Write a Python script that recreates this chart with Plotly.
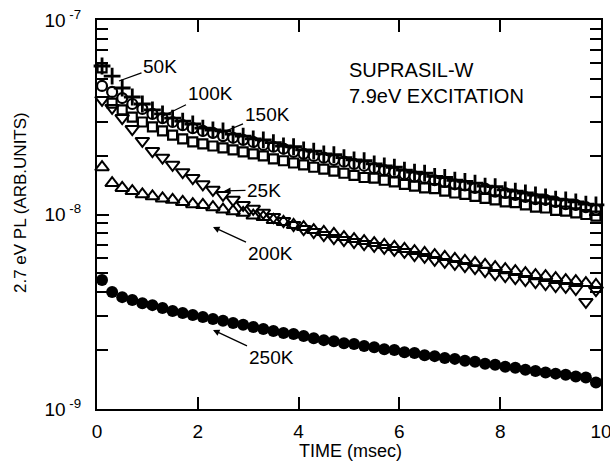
import plotly.graph_objects as go

# ---------------- data (values in units of 1e-9, arbitrary units) ----------------
TIME = [0.1, 0.3, 0.5, 0.7, 0.9, 1.1, 1.3, 1.5, 1.7, 1.9,
        2.1, 2.3, 2.5, 2.7, 2.9, 3.1, 3.3, 3.5, 3.7, 3.9,
        4.1, 4.3, 4.5, 4.7, 4.9, 5.1, 5.3, 5.5, 5.7, 5.9,
        6.1, 6.3, 6.5, 6.7, 6.9, 7.1, 7.3, 7.5, 7.7, 7.9,
        8.1, 8.3, 8.5, 8.7, 8.9, 9.1, 9.3, 9.5, 9.7, 9.9]

PL_50K = [58.0, 51.5, 44.7, 40.2, 37.0, 34.5, 32.9, 31.3, 30.2, 29.2,
          27.8, 27.2, 26.9, 25.9, 25.3, 24.5, 24.2, 23.4, 22.5, 22.3,
          21.5, 21.2, 20.5, 20.3, 19.6, 19.1, 18.9, 18.2, 17.8, 17.5,
          16.9, 16.5, 16.3, 15.7, 15.5, 15.0, 14.8, 14.5, 14.0, 13.9,
          13.4, 13.2, 12.9, 12.6, 12.3, 12.0, 11.9, 11.6, 11.3, 11.2]

PL_100K = [45.8, 42.7, 39.7, 37.0, 34.9, 32.9, 31.3, 29.9, 28.8, 27.8,
           26.9, 26.3, 25.3, 24.8, 24.2, 23.6, 22.8, 22.3, 21.8, 21.0,
           20.5, 20.0, 19.6, 19.1, 18.7, 18.2, 17.8, 17.3, 16.9, 16.5,
           16.1, 15.7, 15.4, 15.0, 14.7, 14.3, 14.1, 13.7, 13.6, 13.1,
           12.9, 12.6, 12.3, 12.0, 11.9, 11.6, 11.3, 11.2, 10.9, 10.6]

PL_150K = [56.7, 37.4, 34.5, 31.7, 29.9, 28.2, 26.9, 25.6, 24.5, 23.6,
           23.1, 22.5, 22.0, 21.5, 21.0, 20.5, 20.0, 19.3, 18.9, 18.4,
           18.0, 17.5, 17.1, 16.7, 16.3, 15.9, 15.5, 15.4, 15.0, 14.7,
           14.3, 14.0, 13.7, 13.6, 13.2, 12.9, 12.7, 12.4, 12.1, 11.9,
           11.6, 11.5, 11.2, 10.9, 10.8, 10.5, 10.4, 10.2, 10.0, 9.82]

PL_25K = [38.8, 35.3, 31.3, 27.5, 23.9, 21.2, 19.6, 18.0, 16.5, 15.4,
          14.3, 13.4, 12.6, 11.9, 11.2, 10.7, 10.2, 9.71, 9.26, 8.83,
          8.42, 8.13, 7.84, 7.57, 7.39, 7.22, 7.05, 6.89, 6.73, 6.57,
          6.42, 6.19, 6.05, 5.84, 5.70, 5.57, 5.43, 5.30, 5.12, 4.94,
          4.82, 4.71, 4.60, 4.49, 4.39, 4.29, 4.24, 4.14, 3.55, 4.09]

PL_200K = [17.5, 14.5, 13.7, 13.2, 12.7, 12.4, 12.1, 11.9, 11.6, 11.3,
           11.2, 10.9, 10.6, 10.4, 10.2, 9.88, 9.71, 9.37, 9.15, 8.83,
           8.62, 8.32, 8.13, 7.94, 7.66, 7.48, 7.30, 7.13, 6.97, 6.81,
           6.65, 6.49, 6.34, 6.19, 6.05, 5.91, 5.77, 5.64, 5.51, 5.37,
           5.24, 5.12, 5.00, 4.88, 4.82, 4.71, 4.60, 4.55, 4.44, 4.34]

PL_250K = [4.60, 3.99, 3.76, 3.63, 3.50, 3.42, 3.31, 3.19, 3.12, 3.04,
           2.97, 2.90, 2.84, 2.77, 2.71, 2.64, 2.58, 2.52, 2.46, 2.43,
           2.37, 2.31, 2.26, 2.23, 2.18, 2.16, 2.11, 2.08, 2.03, 2.01,
           1.96, 1.94, 1.89, 1.87, 1.83, 1.81, 1.77, 1.75, 1.71, 1.69,
           1.65, 1.63, 1.59, 1.57, 1.54, 1.52, 1.50, 1.47, 1.45, 1.37]

UNIT = 1e-9
Y_MAJOR = [1e-9, 1e-8, 1e-7]
Y_MAJOR_TEXT = ["10<sup> -9</sup>", "10<sup> -8</sup>", "10<sup> -7</sup>"]
Y_MINOR = [m * d for d in (1e-9, 1e-8) for m in range(2, 10)]
X_TICKS = [0, 2, 4, 6, 8, 10]

FONT = "Liberation Sans, Arial, sans-serif"
BLACK = "black"

# ---------------- figure ----------------
W, H = 610, 468
L, R, T, B = 97, 9, 20, 59
PW, PH = W - L - R, H - T - B

fig = go.Figure()

def add(vals, symbol, size, lw):
    fig.add_trace(go.Scatter(
        x=TIME, y=[v * UNIT for v in vals], mode="markers",
        marker=dict(symbol=symbol, size=size, color=BLACK,
                    line=dict(color=BLACK, width=lw)),
        showlegend=False, hoverinfo="skip", cliponaxis=False))

add(PL_250K, "circle", 12, 0)
add(PL_200K, "triangle-up-open", 12, 2.0)
add(PL_25K, "triangle-down-open", 12, 2.0)
add(PL_150K, "square-open", 9, 2.2)
add(PL_100K, "circle-open", 10, 2.2)
add(PL_50K, "cross-thin-open", 12, 2.8)

def px(x):
    return (x - L) / PW

def py(y):
    return (H - B - y) / PH

# labels with leader lines: (text, tip_x, tip_y, text_cx, text_cy, arrowhead)
LABELS = [
    ("50K", 119, 81, 160, 66, 0),
    ("100K", 161, 117, 210, 93, 0),
    ("150K", 221, 133, 267, 114, 0),
    ("25K", 224, 191, 264, 190, 2),
    ("200K", 213, 227, 270, 253, 2),
    ("250K", 213, 330, 271, 357, 2),
]
for text, tx, ty, cx, cy, head in LABELS:
    fig.add_annotation(
        x=px(tx), y=py(ty), xref="paper", yref="paper",
        ax=cx - tx, ay=cy - ty, axref="pixel", ayref="pixel",
        text=text, showarrow=True, arrowhead=head, arrowsize=1.0,
        arrowwidth=1.3, arrowcolor=BLACK, standoff=0,
        xanchor="center", yanchor="middle",
        font=dict(family=FONT, size=19, color=BLACK))

for txt, y in (("SUPRASIL-W", 70), ("7.9eV EXCITATION", 96)):
    fig.add_annotation(x=px(347), y=py(y), xref="paper", yref="paper",
                       text=txt, showarrow=False, xanchor="left", yanchor="middle",
                       font=dict(family=FONT, size=20, color=BLACK))

# axis titles
fig.add_annotation(x=px(20), y=py(203), xref="paper", yref="paper",
                   text="2.7 eV PL (ARB.UNITS)", showarrow=False, textangle=-90,
                   xanchor="center", yanchor="middle",
                   font=dict(family=FONT, size=17, color=BLACK))
fig.add_annotation(x=px(350), y=py(451), xref="paper", yref="paper",
                   text="TIME (msec)", showarrow=False,
                   xanchor="center", yanchor="middle",
                   font=dict(family=FONT, size=18, color=BLACK))

fig.update_xaxes(range=[0, 10], tickvals=X_TICKS, ticks="inside", ticklen=12,
                 tickwidth=1.5, tickcolor=BLACK, showline=True, linewidth=2,
                 linecolor=BLACK, mirror="ticks", showgrid=False, zeroline=False,
                 automargin=False, ticklabelstandoff=4, ticklabeloverflow="allow",
                 tickfont=dict(family=FONT, size=19, color=BLACK))
fig.update_yaxes(type="log", range=[-9, -7], tickvals=Y_MAJOR, ticktext=Y_MAJOR_TEXT,
                 ticks="inside", ticklen=12, tickwidth=1.5, tickcolor=BLACK,
                 showline=True, linewidth=2, linecolor=BLACK, mirror="ticks",
                 showgrid=False, zeroline=False, ticklabelstandoff=10,
                 automargin=False, ticklabeloverflow="allow",
                 minor=dict(tickvals=Y_MINOR, ticks="inside", ticklen=11,
                            tickwidth=1.5, tickcolor=BLACK, showgrid=False),
                 tickfont=dict(family=FONT, size=19, color=BLACK))

fig.update_layout(width=W, height=H, margin=dict(l=L, r=R, t=T, b=B),
                  plot_bgcolor="white", paper_bgcolor="white",
                  font=dict(family=FONT, color=BLACK))

fig.write_html("out.html")
